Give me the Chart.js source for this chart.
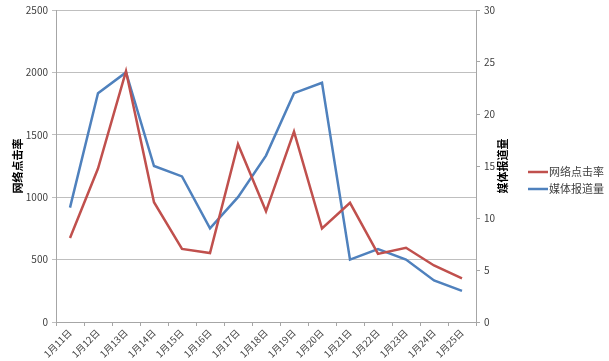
<!DOCTYPE html>
<html>
<head>
<meta charset="utf-8">
<script src="https://cdn.jsdelivr.net/npm/chart.js@4"></script>
<style>
html,body{margin:0;padding:0;background:#fff;}
#wrap{width:609px;height:361px;position:relative;}
</style>
</head>
<body>
<div id="wrap"><canvas id="c" width="609" height="361"></canvas></div>
<script>
const categories = ["1月11日","1月12日","1月13日","1月14日","1月15日","1月16日","1月17日","1月18日","1月19日","1月20日","1月21日","1月22日","1月23日","1月24日","1月25日"];
const clickRate = [673, 1230, 2010, 960, 586, 552, 1424, 887, 1526, 749, 955, 546, 595, 453, 350];
const mediaReports = [11, 22, 24, 15, 14, 9, 12, 16, 22, 23, 6, 7, 6, 4, 3];
const seriesNames = ["网络点击率", "媒体报道量"];
const leftTicks = [0, 500, 1000, 1500, 2000, 2500];
const rightTicks = [0, 5, 10, 15, 20, 25, 30];

const FONT = '"Noto Sans CJK SC", "DejaVu Sans", sans-serif';
const RED = '#C0504D', BLUE = '#4F81BD';

const extrasPlugin = {
  id: 'extras',
  afterDraw(chart) {
    const ctx = chart.ctx;
    ctx.save();
    // legend
    ctx.font = '11px ' + FONT;
    ctx.textBaseline = 'middle';
    ctx.textAlign = 'left';
    const x0 = 528, y0 = 172, gap = 17;
    chart.data.datasets.forEach((ds, i) => {
      const y = y0 + i * gap;
      ctx.strokeStyle = ds.borderColor;
      ctx.lineWidth = 2.5;
      ctx.beginPath(); ctx.moveTo(x0, y); ctx.lineTo(x0 + 20, y); ctx.stroke();
      ctx.fillStyle = '#404040';
      ctx.fillText(ds.label, x0 + 21, y);
    });
    // right axis title, reading bottom-to-top
    const s = chart.scales.y1;
    ctx.translate(503, (chart.chartArea.top + chart.chartArea.bottom) / 2);
    ctx.rotate(-Math.PI / 2);
    ctx.font = 'bold 11px ' + FONT;
    ctx.fillStyle = '#000';
    ctx.textAlign = 'center';
    ctx.fillText(seriesNames[1], 0, 0);
    ctx.restore();
  }
};

new Chart(document.getElementById('c'), {
  type: 'line',
  data: {
    labels: categories,
    datasets: [
      { label: seriesNames[0], data: clickRate, borderColor: RED, backgroundColor: RED, borderWidth: 2.5, pointRadius: 0, tension: 0, yAxisID: 'y' },
      { label: seriesNames[1], data: mediaReports, borderColor: BLUE, backgroundColor: BLUE, borderWidth: 2.5, pointRadius: 0, tension: 0, yAxisID: 'y1' }
    ]
  },
  options: {
    responsive: false,
    animation: false,
    layout: { padding: { top: 1, right: 93, left: 0, bottom: 0 } },
    plugins: { legend: { display: false }, tooltip: { enabled: false } },
    scales: {
      x: {
        offset: true,
        grid: { drawOnChartArea: false, drawTicks: true, offset: true, tickLength: 4, color: '#a6a6a6' },
        border: { color: '#a6a6a6', width: 1 },
        ticks: { maxRotation: 45, minRotation: 45, autoSkip: false, font: { size: 9.5, family: FONT }, color: '#404040', padding: 1 },
        afterFit(s) { s.height = 39; }
      },
      y: {
        position: 'left',
        min: 0, max: 2500,
        afterBuildTicks(s) { s.ticks = leftTicks.map(v => ({ value: v })); },
        grid: { color: '#bfbfbf', tickLength: 4, drawTicks: true },
        border: { color: '#a6a6a6', width: 1 },
        ticks: { font: { size: 10, family: FONT }, color: '#404040', padding: 4, callback: v => String(v) },
        title: { display: true, text: seriesNames[0], font: { size: 11, weight: 'bold', family: FONT }, color: '#000', padding: { top: 11, bottom: 0 } },
        afterFit(s) { s.width = 56; }
      },
      y1: {
        position: 'right',
        min: 0, max: 30,
        afterBuildTicks(s) { s.ticks = rightTicks.map(v => ({ value: v })); },
        grid: { drawOnChartArea: false, tickLength: 4, drawTicks: true, color: '#a6a6a6' },
        border: { color: '#a6a6a6', width: 1 },
        ticks: { font: { size: 10, family: FONT }, color: '#404040', padding: 4, callback: v => String(v) },
        afterFit(s) { s.width = 40; }
      }
    }
  },
  plugins: [extrasPlugin]
});
</script>
</body>
</html>
